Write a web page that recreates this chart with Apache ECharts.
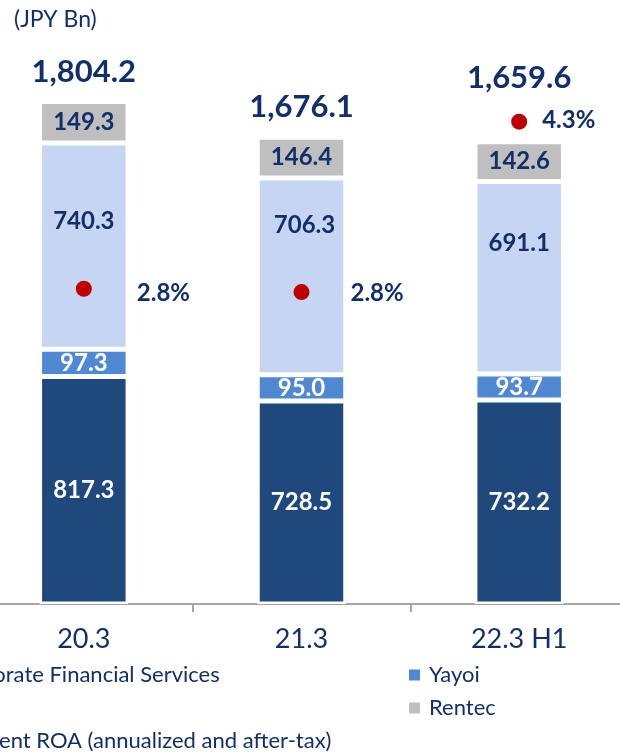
<!DOCTYPE html>
<html><head><meta charset="utf-8">
<script src="https://cdn.jsdelivr.net/npm/echarts@6/dist/echarts.min.js"></script>
<style>html,body{margin:0;padding:0;background:#fff}#c{width:620px;height:752px}</style>
</head><body><div id="c"></div>
<script>
// ---- data ----
const categories = ['20.3', '21.3', '22.3 H1'];
const corporateFinancial = [817.3, 728.5, 732.2];
const yayoi = [97.3, 95.0, 93.7];
const auto = [740.3, 706.3, 691.1];
const rentec = [149.3, 146.4, 142.6];
const totals = [1804.2, 1676.1, 1659.6];
const segmentROA = [2.83, 2.80, 4.33];
const seriesNames = ['Corporate Financial Services', 'Yayoi', 'Auto', 'Rentec', 'Segment ROA (annualized and after-tax)'];
const unitLabel = '(JPY Bn)';

// ---- styling ----
const FONT = 'Lato, sans-serif';
const NAVY = '#112F6B';
const fmtTotal = v => {
  const s = v.toFixed(1); const [a, b] = s.split('.');
  return a.replace(/\B(?=(\d{3})+(?!\d))/g, ',') + '.' + b;
};
const autoLabelOffsets = [[0, -25], [3, -51], [0, -34]];
const totalOffsets = [[0, -30], [0, -30], [0, -64]];
const roaLabelStyle = [{distance: 45, offset: [0, 5]}, {distance: 41, offset: [0, 1]}, {distance: 15, offset: [0, -1.5]}];

const barBase = {
  type: 'bar', stack: 'seg', barWidth: 88.5,
  itemStyle: {borderColor: '#fff', borderWidth: 2.5},
  label: {show: true, position: 'inside', fontFamily: FONT, fontWeight: 'bold', fontSize: 24, color: NAVY,
          formatter: p => p.value.toFixed(1)}
};
const legendText = {fontFamily: FONT, fontSize: 22, color: NAVY, lineHeight: 20, padding: [0, 0, 0, 4]};
const legendBase = {orient: 'vertical', top: 664, height: 120, padding: 0, itemWidth: 11, itemHeight: 11, itemGap: 11,
                    icon: 'rect', itemStyle: {borderWidth: 0, opacity: 1}, textStyle: legendText};

const option = {
  animation: false,
  backgroundColor: '#fff',
  title: {text: unitLabel, left: 14, top: 8, padding: 0,
          textStyle: {fontFamily: FONT, fontSize: 23, fontWeight: 'normal', color: NAVY}},
  grid: {left: -25, right: -8, top: 47, bottom: 148, containLabel: false, outerBoundsMode: 'none'},
  xAxis: {
    type: 'category', data: categories,
    axisLine: {lineStyle: {color: '#A6A6A6', width: 2}},
    axisTick: {show: true, length: 8, lineStyle: {color: '#A6A6A6', width: 2}},
    axisLabel: {fontFamily: FONT, fontSize: 27, color: NAVY, margin: 22}
  },
  yAxis: [
    {type: 'value', min: 0, max: 2000, show: false, splitLine: {show: false}},
    {type: 'value', min: 0, max: 5, show: false, splitLine: {show: false}}
  ],
  legend: [
    Object.assign({}, legendBase, {left: -74,
      data: [seriesNames[0], seriesNames[2], {name: seriesNames[4], icon: 'circle'}]}),
    Object.assign({}, legendBase, {left: 409, data: [seriesNames[1], seriesNames[3]]})
  ],
  series: [
    Object.assign({}, barBase, {name: seriesNames[0], data: corporateFinancial,
      itemStyle: Object.assign({}, barBase.itemStyle, {color: '#1F497D'}),
      label: Object.assign({}, barBase.label, {color: '#fff'})}),
    Object.assign({}, barBase, {name: seriesNames[1], data: yayoi,
      itemStyle: Object.assign({}, barBase.itemStyle, {color: '#4F88D3'}),
      label: Object.assign({}, barBase.label, {color: '#fff'})}),
    Object.assign({}, barBase, {name: seriesNames[2],
      data: auto.map((v, i) => ({value: v, label: {offset: autoLabelOffsets[i]}})),
      itemStyle: Object.assign({}, barBase.itemStyle, {color: '#C6D6F2'})}),
    Object.assign({}, barBase, {name: seriesNames[3], data: rentec,
      itemStyle: Object.assign({}, barBase.itemStyle, {color: '#BFBFBF'})}),
    {
      name: 'Total', type: 'scatter', symbolSize: 1, silent: true,
      itemStyle: {color: 'rgba(0,0,0,0)', opacity: 1},
      data: totals.map((v, i) => ({value: v, label: {offset: totalOffsets[i]}})),
      label: {show: true, position: 'inside', fontFamily: FONT, fontWeight: 'bold', fontSize: 31, color: NAVY,
              opacity: 1, formatter: p => fmtTotal(p.value)}
    },
    {
      name: seriesNames[4], type: 'scatter', yAxisIndex: 1, symbolSize: 16,
      itemStyle: {color: '#C00000', opacity: 1},
      data: segmentROA.map((v, i) => ({value: v, label: roaLabelStyle[i]})),
      label: {show: true, position: 'right', fontFamily: FONT, fontWeight: 'bold', fontSize: 24, color: NAVY,
              opacity: 1, formatter: p => p.value.toFixed(1) + '%'}
    }
  ]
};
const chart = echarts.init(document.getElementById('c'), null, {renderer: 'canvas'});
chart.setOption(option);
</script>
</body></html>
